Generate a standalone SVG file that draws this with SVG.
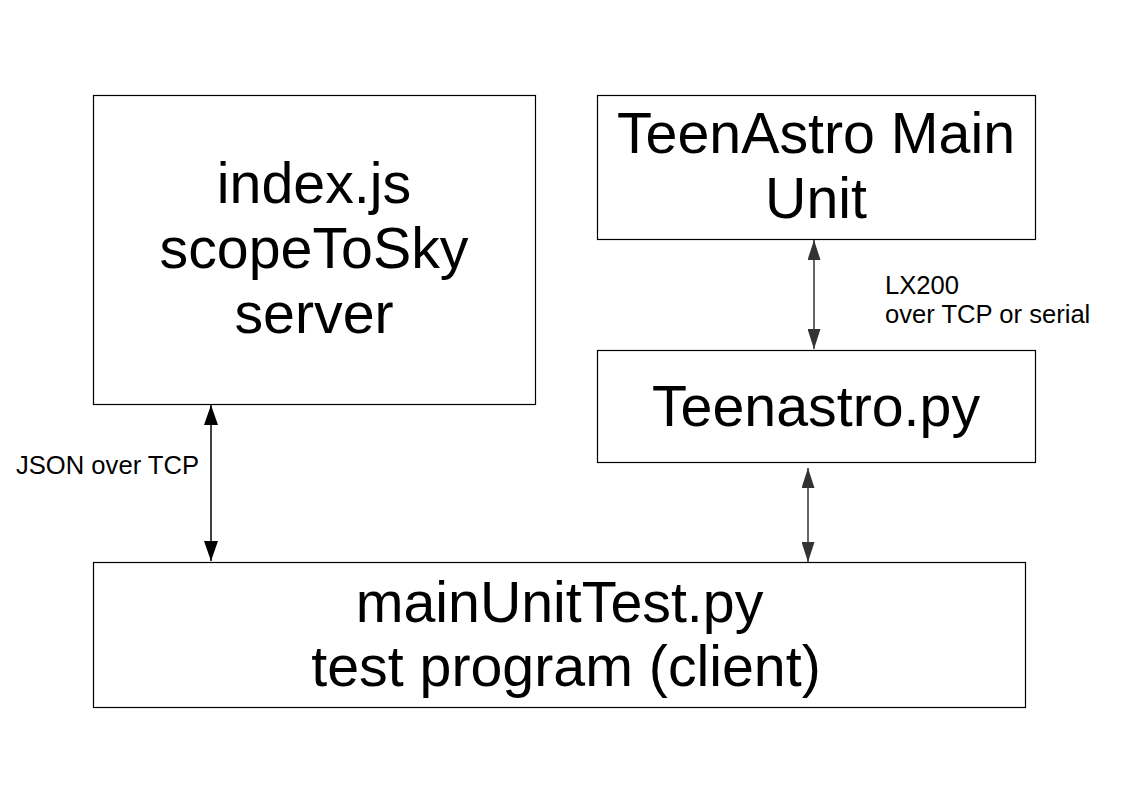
<svg xmlns="http://www.w3.org/2000/svg" width="1123" height="794" viewBox="0 0 1123 794">
  <defs>
    <marker id="ahBlack" viewBox="0 0 20 14" refX="20" refY="7" markerWidth="20" markerHeight="14" markerUnits="userSpaceOnUse" orient="auto-start-reverse">
      <path d="M0,0 L20,7 L0,14 z" fill="#000000"/>
    </marker>
    <marker id="ahGray" viewBox="0 0 20 13" refX="20" refY="6.5" markerWidth="20" markerHeight="13" markerUnits="userSpaceOnUse" orient="auto-start-reverse">
      <path d="M0,0 L20,6.5 L0,13 z" fill="#333333"/>
    </marker>
    <style>
      .box { fill: #ffffff; stroke: #000000; stroke-width: 1.2; }
      .big { font-family: "Liberation Sans", Arial, sans-serif; font-size: 57.3px; fill: #000000; text-anchor: middle; }
      .small { font-family: "Liberation Sans", Arial, sans-serif; font-size: 25.6px; fill: #000000; }
      .conn { fill: none; stroke-width: 1.5; }
    </style>
  </defs>
  <rect width="1123" height="794" fill="#ffffff"/>

  <g id="connectors">
    <line class="conn" x1="211" y1="405" x2="211" y2="561" stroke="#000000" marker-start="url(#ahBlack)" marker-end="url(#ahBlack)"/>
    <line class="conn" x1="814" y1="240" x2="814" y2="349" stroke="#333333" marker-start="url(#ahGray)" marker-end="url(#ahGray)"/>
    <line class="conn" x1="808" y1="468" x2="808" y2="562" stroke="#333333" marker-start="url(#ahGray)" marker-end="url(#ahGray)"/>
    <text class="small" x="16" y="474">JSON over TCP</text>
    <text class="small" x="885" y="294">LX200</text>
    <text class="small" x="885" y="323">over TCP or serial</text>
  </g>

  <g id="node-indexjs">
    <rect class="box" x="93.5" y="95.5" width="442" height="309"/>
    <text class="big" x="314" y="203">index.js</text>
    <text class="big" x="314" y="268">scopeToSky</text>
    <text class="big" x="314" y="333">server</text>
  </g>

  <g id="node-mainunit">
    <rect class="box" x="597.5" y="95.5" width="438" height="144"/>
    <text class="big" x="816" y="153">TeenAstro Main</text>
    <text class="big" x="816" y="218">Unit</text>
  </g>

  <g id="node-teenastro">
    <rect class="box" x="597.5" y="350.5" width="438" height="112"/>
    <text class="big" x="816" y="426">Teenastro.py</text>
  </g>

  <g id="node-maintest">
    <rect class="box" x="93.5" y="562.5" width="932" height="145"/>
    <text class="big" x="559.5" y="622">mainUnitTest.py</text>
    <text class="big" x="566" y="686">test program (client)</text>
  </g>
</svg>
